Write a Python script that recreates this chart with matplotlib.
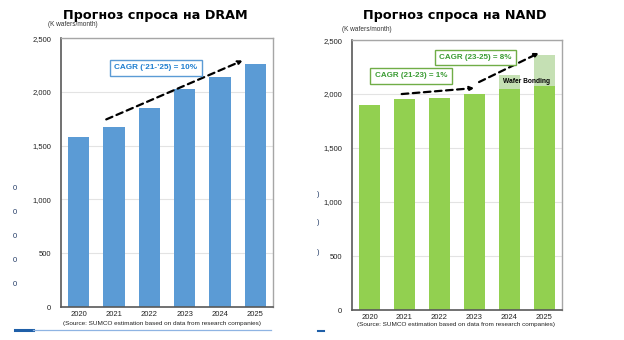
import numpy as np
import matplotlib
matplotlib.use("Agg")
import matplotlib.pyplot as plt

plt.rcParams['font.family'] = ['Liberation Sans', 'DejaVu Sans']

# данные
years = ['2020', '2021', '2022', '2023', '2024', '2025']
dram = [1580, 1670, 1850, 2030, 2140, 2260]
nand_base = [1900, 1950, 1960, 2000, 2050, 2070]
nand_bonding = [0, 0, 0, 0, 130, 290]
y_ticks = [0, 500, 1000, 1500, 2000, 2500]
y_ticklabels = ['0', '500', '1,000', '1,500', '2,000', '2,500']

blue = '#5b9bd5'
green = '#92d050'
light_green = '#c5e0b4'
source_txt = '(Source: SUMCO estimation based on data from research companies)'

fig = plt.figure(figsize=(6.24, 3.40), dpi=100)
fig.patch.set_facecolor('white')


def setup_axes(ax):
    ax.set_xlim(-0.5, 5.5)
    ax.set_ylim(0, 2500)
    ax.set_yticks(y_ticks)
    ax.set_yticklabels(y_ticklabels)
    ax.set_xticks(np.arange(len(years)))
    ax.set_xticklabels(years)
    ax.tick_params(axis='both', length=0, labelsize=5.5, colors='#222222')
    ax.tick_params(axis='y', pad=7)
    ax.tick_params(axis='x', pad=3)
    ax.grid(axis='y', color='#e3e3e3', linewidth=0.8)
    ax.set_axisbelow(True)
    for s in ['top', 'right']:
        ax.spines[s].set_color('#a6a6a6')
        ax.spines[s].set_linewidth(1.0)
    for s in ['left', 'bottom']:
        ax.spines[s].set_color('#595959')
        ax.spines[s].set_linewidth(1.2)


def dashed_arrow(ax, start, end):
    ax.annotate('', xy=end, xytext=start,
                arrowprops=dict(arrowstyle='-|>', color='black', lw=1.6,
                                linestyle=(0, (3, 2)), mutation_scale=6,
                                shrinkA=0, shrinkB=0))


# ---- DRAM ----
ax1 = fig.add_axes([0.0978, 0.097, 0.3397, 0.791])
setup_axes(ax1)
x = np.arange(len(years))
ax1.bar(x, dram, width=0.6, color=blue)
dashed_arrow(ax1, (0.78, 1744), (4.64, 2291))
ax1.text(2.19, 2222, 'CAGR (‘21-’25) = 10%', ha='center', va='center',
         fontsize=5.9, fontweight='bold', color='#1f7fd0',
         bbox=dict(boxstyle='square,pad=0.55', fc='white', ec=blue, lw=1.0))
fig.text(0.2484, 0.955, 'Прогноз спроса на DRAM', ha='center', va='center',
         fontsize=9.2, fontweight='bold', family='DejaVu Sans')
fig.text(0.077, 0.927, '(K wafers/month)', ha='left', va='center', fontsize=4.7,
         color='#333333')
fig.text(0.2596, 0.050, source_txt, ha='center', va='center', fontsize=4.6,
         color='#222222')

# ---- NAND ----
ax2 = fig.add_axes([0.5641, 0.0882, 0.3365, 0.794])
setup_axes(ax2)
ax2.bar(x, nand_base, width=0.6, color=green)
ax2.bar(x, nand_bonding, width=0.6, bottom=nand_base, color=light_green)
ax2.text(4.5, 2120, 'Wafer Bonding', ha='center', va='center', fontsize=4.8,
         fontweight='bold', color='black')
dashed_arrow(ax2, (0.92, 2000), (2.99, 2055))
dashed_arrow(ax2, (3.13, 2111), (4.84, 2380))
ax2.text(1.19, 2171, 'CAGR (21-23) = 1%', ha='center', va='center',
         fontsize=5.8, fontweight='bold', color='#3b9c34',
         bbox=dict(boxstyle='square,pad=0.55', fc='white', ec='#70ad47', lw=1.0))
ax2.text(3.03, 2338, 'CAGR (23-25) = 8%', ha='center', va='center',
         fontsize=5.8, fontweight='bold', color='#3b9c34',
         bbox=dict(boxstyle='square,pad=0.55', fc='white', ec='#70ad47', lw=1.0))
fig.text(0.7292, 0.955, 'Прогноз спроса на NAND', ha='center', va='center',
         fontsize=9.2, fontweight='bold', family='DejaVu Sans')
fig.text(0.548, 0.914, '(K wafers/month)', ha='left', va='center', fontsize=4.7,
         color='#333333')
fig.text(0.7308, 0.045, source_txt, ha='center', va='center', fontsize=4.6,
         color='#222222')

# обрезанные остатки соседнего слайда
for yy in [189, 213, 237, 261, 285]:
    fig.text(15 / 624, 1 - yy / 340, '0', ha='center', va='center',
             fontsize=5.4, color='#1f3864')
for yy in [195, 223, 253]:
    fig.text(318 / 624, 1 - yy / 340, ')', ha='center', va='center',
             fontsize=5.4, color='#1f3864')
fig.add_artist(plt.Line2D([15 / 624, 33 / 624], [1 - 330 / 340] * 2,
                          color='#1f5fa8', lw=2.2))
fig.add_artist(plt.Line2D([33 / 624, 271 / 624], [1 - 330 / 340] * 2,
                          color='#8fb4e3', lw=0.9))
fig.add_artist(plt.Line2D([318 / 624, 324 / 624], [1 - 331 / 340] * 2,
                          color='#1f5fa8', lw=1.5))

fig.savefig('out.png', dpi=100)
